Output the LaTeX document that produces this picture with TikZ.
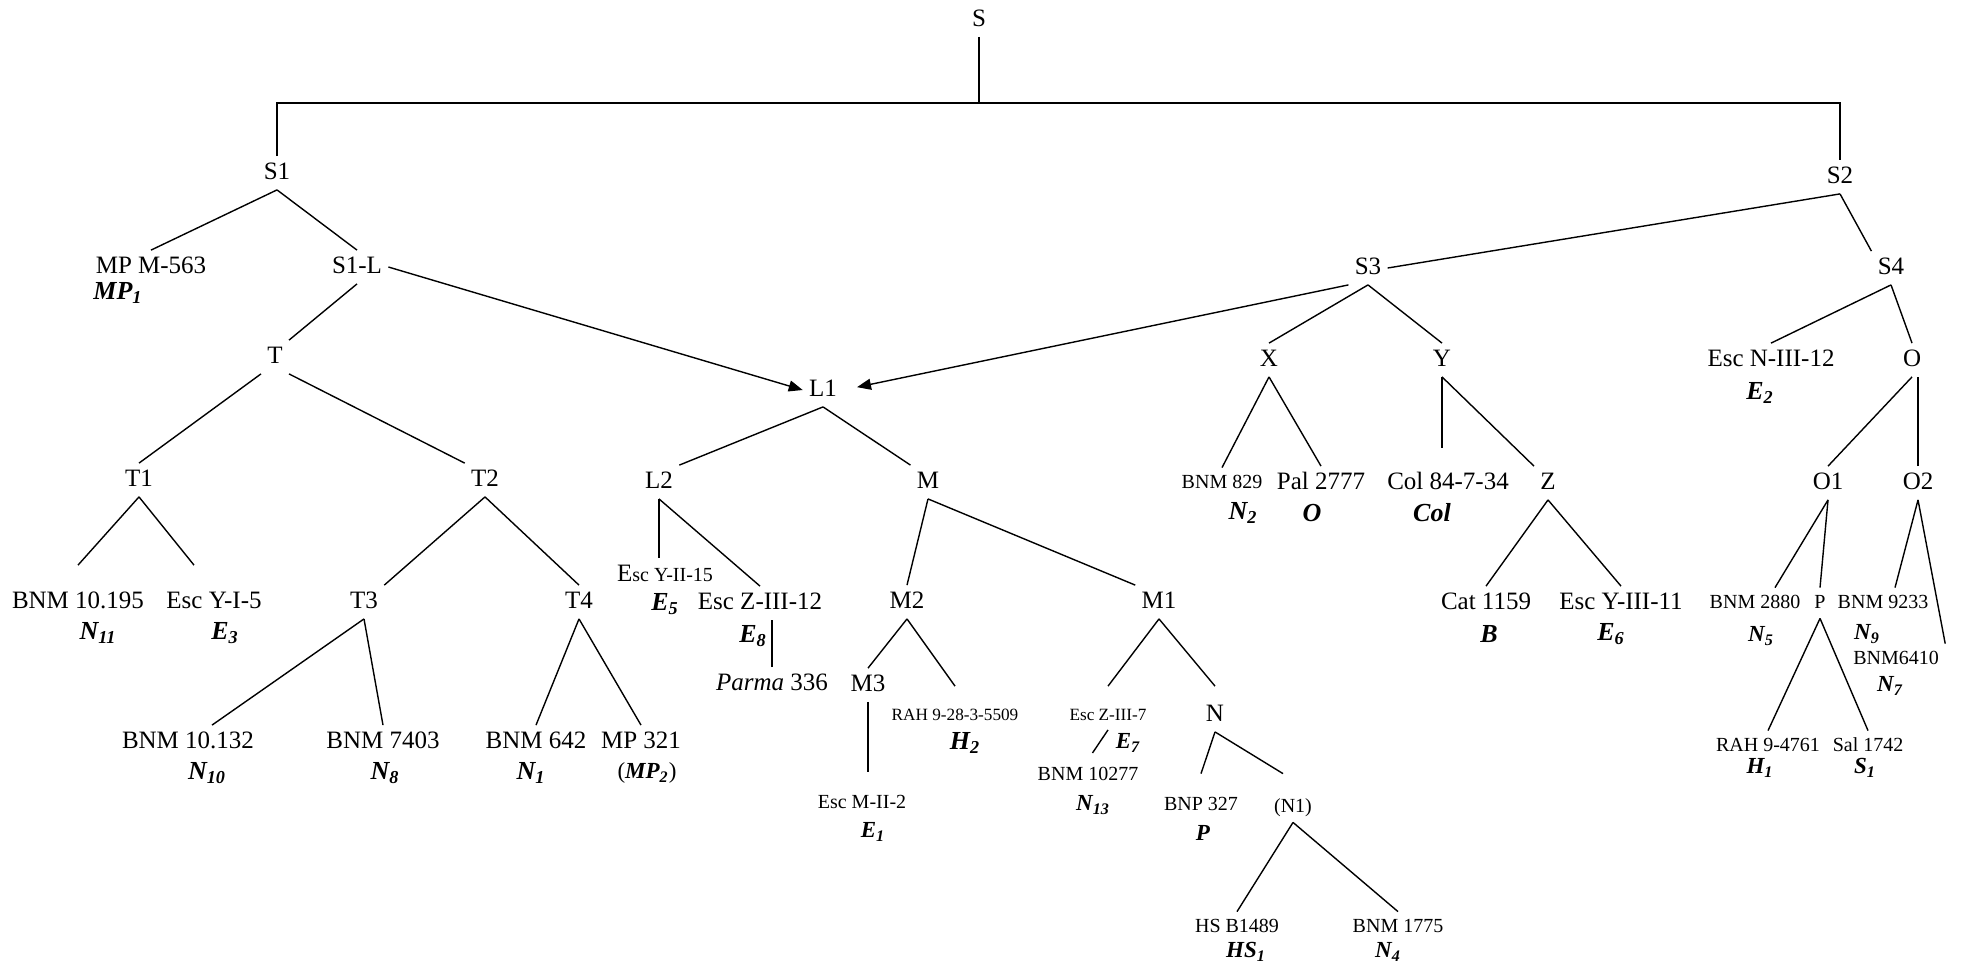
\documentclass[tikz,border=0pt]{standalone}
\usepackage{fontspec}
\setmainfont{Liberation Serif}
\usetikzlibrary{arrows.meta}
\newcommand{\mainsz}{\fontsize{12.5}{14}\selectfont}
\newcommand{\smsz}{\fontsize{10}{12}\selectfont}
\newcommand{\tinysz}{\fontsize{8.6}{10}\selectfont}
\newcommand{\sigsz}{\fontsize{13}{15}\selectfont}
\newcommand{\sigsmsz}{\fontsize{11.5}{13}\selectfont}

\begin{document}
\begin{tikzpicture}[
    x=0.5pt, y=-0.5pt,
    lab/.style={font=\mainsz, inner sep=3pt, text height=8.5pt, text depth=2pt},
    smalllab/.style={font=\smsz, inner sep=3pt, text height=7pt, text depth=2pt},
    tinylab/.style={font=\tinysz, inner sep=3pt, text height=6pt, text depth=1.5pt},
    sig/.style={font=\sigsz\bfseries\itshape, inner sep=1pt},
    sigsm/.style={font=\sigsmsz\bfseries\itshape, inner sep=1pt},
    conn/.style={line width=0.7pt},
    arrow/.style={-{Triangle[length=7pt,width=5.5pt]}, line width=0.7pt}
]
\useasboundingbox (0,0) rectangle (1962,966);

\node[lab] (S) at (979,20) {S};
\node[lab] (S1) at (277,173) {S1};
\node[lab] (S2) at (1840,177) {S2};
\coordinate (bar) at (979,103);
\node[lab] (mp563) at (151,267) {MP M-563};
\node[sig] (sMP1) at (118,293) {MP\textsubscript{1}};
\node[lab] (S1L) at (357,267) {S1-L};
\node[lab] (S3) at (1368,268) {S3};
\node[lab] (S4) at (1891,268) {S4};

\node[lab] (T) at (275,357) {T};
\node[lab] (L1) at (823,390) {L1};
\node[lab] (X) at (1269,360) {X};
\node[lab] (Y) at (1442,360) {Y};
\node[lab] (escn) at (1771,360) {Esc N-III-12};
\node[sig] (sE2) at (1760,393) {E\textsubscript{2}};
\node[lab] (O) at (1912,360) {O};

\node[lab] (T1) at (139,480) {T1};
\node[lab] (T2) at (485,480) {T2};
\node[lab] (L2) at (659,482) {L2};
\node[lab] (M) at (928,482) {M};
\node[smalllab] (bnm829) at (1222,483) {BNM 829};
\node[sig] (sN2) at (1243,513) {N\textsubscript{2}};
\node[lab] (pal) at (1321,483) {Pal 2777};
\node[sig] (sO) at (1312,513) {O};
\node[lab] (col) at (1448,483) {Col 84-7-34};
\node[sig] (sCol) at (1432,513) {Col};
\node[lab] (Z) at (1548,483) {Z};
\node[lab] (O1) at (1828,483) {O1};
\node[lab] (O2) at (1918,483) {O2};

\node[lab] (bnm10195) at (78,602) {BNM 10.195};
\node[sig] (sN11) at (98,633) {N\textsubscript{11}};
\node[lab] (escyi5) at (214,602) {Esc Y-I-5};
\node[sig] (sE3) at (225,633) {E\textsubscript{3}};
\node[lab] (T3) at (364,602) {T3};
\node[lab] (T4) at (579,602) {T4};
\node[lab] (escyii15) at (665,575) {E{\smsz sc Y-II-15}};
\node[sig] (sE5) at (665,604) {E\textsubscript{5}};
\node[lab] (escz12) at (760,603) {Esc Z-III-12};
\node[sig] (sE8) at (753,636) {E\textsubscript{8}};
\node[lab] (parma) at (772,684) {\textit{Parma} 336};
\node[lab] (M2) at (907,602) {M2};
\node[lab] (M1) at (1159,602) {M1};
\node[lab] (cat) at (1486,603) {Cat 1159};
\node[sig] (sB) at (1489,634) {B};
\node[lab] (escyiii11) at (1621,603) {Esc Y-III-11};
\node[sig] (sE6) at (1611,634) {E\textsubscript{6}};
\node[smalllab] (bnm2880) at (1755,603) {BNM 2880};
\node[sigsm] (sN5) at (1761,636) {N\textsubscript{5}};
\node[smalllab] (P) at (1820,603) {P};
\node[smalllab] (bnm9233) at (1883,603) {BNM 9233};
\node[sigsm] (sN9) at (1867,634) {N\textsubscript{9}};
\node[smalllab] (bnm6410) at (1896,659) {BNM6410};
\node[sigsm] (sN7) at (1890,686) {N\textsubscript{7}};

\node[lab] (M3) at (868,685) {M3};
\node[tinylab] (rah5509) at (955,716) {RAH 9-28-3-5509};
\node[sig] (sH2) at (965,743) {H\textsubscript{2}};
\node[tinylab] (escz7) at (1108,716) {Esc Z-III-7};
\node[sigsm] (sE7) at (1128,743) {E\textsubscript{7}};
\node[lab] (N) at (1215,715) {N};
\node[lab] (bnm10132) at (188,742) {BNM 10.132};
\node[sig] (sN10) at (207,773) {N\textsubscript{10}};
\node[lab] (bnm7403) at (383,742) {BNM 7403};
\node[sig] (sN8) at (385,773) {N\textsubscript{8}};
\node[lab] (bnm642) at (536,742) {BNM 642};
\node[sig] (sN1) at (531,773) {N\textsubscript{1}};
\node[lab] (mp321) at (641,742) {MP 321};
\node[font=\sigsmsz, inner sep=1pt] (sMP2) at (647,773) {(\textbf{\textit{MP\textsubscript{2}}})};
\node[smalllab] (rah4761) at (1768,746) {RAH 9-4761};
\node[sigsm] (sH1) at (1760,768) {H\textsubscript{1}};
\node[smalllab] (sal) at (1868,746) {Sal 1742};
\node[sigsm] (sS1) at (1865,768) {S\textsubscript{1}};
\node[smalllab] (bnm10277) at (1088,775) {BNM 10277};
\node[sigsm] (sN13) at (1093,805) {N\textsubscript{13}};
\node[smalllab] (escm) at (862,803) {Esc M-II-2};
\node[sigsm] (sE1) at (873,832) {E\textsubscript{1}};
\node[smalllab] (bnp327) at (1201,805) {BNP 327};
\node[sigsm] (sP) at (1203,833) {P};
\node[smalllab] (N1) at (1293,807) {(N1)};
\node[smalllab] (hs) at (1237,927) {HS B1489};
\node[sigsm] (sHS1) at (1246,952) {HS\textsubscript{1}};
\node[smalllab] (bnm1775) at (1398,927) {BNM 1775};
\node[sigsm] (sN4) at (1388,952) {N\textsubscript{4}};

\draw[conn] (S) -- (bar);
\draw[conn, line width=0.9pt] (S1.north) |- (bar) -| (S2.north);
\draw[conn] (S1.south) -- (mp563.north);
\draw[conn] (S1.south) -- (S1L.north);
\draw[arrow] (S1L.east) -- (L1.west);
\draw[conn] (S1L.south) -- (T.north east);
\draw[conn] (S2.south) -- (S3.east);
\draw[conn] (S2.south) -- (S4.north west);
\draw[arrow, shorten >=7pt] (S3.south west) -- (L1.east);
\draw[conn] (S3.south) -- (X.north);
\draw[conn] (S3.south) -- (Y.north);
\draw[conn] (S4.south) -- (escn.north);
\draw[conn] (S4.south) -- (O.north);
\draw[conn] (O.south) -- (O1.north);
\draw[conn] (O2.north) -- (O2.north |- O.south);

\draw[conn] (T.south west) -- (T1.north);
\draw[conn] (T.south east) -- (T2.north west);
\draw[conn] (L1.south) -- (L2.north east);
\draw[conn] (L1.south) -- (M.north west);
\draw[conn] (X.south) -- (bnm829.north);
\draw[conn] (X.south) -- (pal.north);
\draw[conn, shorten >=9pt] (Y.south) -- (Y.south |- col.north);
\draw[conn] (Y.south) -- (Z.north west);

\draw[conn] (T1.south) -- ([yshift=10pt]bnm10195.north);
\draw[conn] (T1.south) -- ([xshift=-10pt,yshift=10pt]escyi5.north);
\draw[conn] (T2.south) -- (T3.north east);
\draw[conn] (T2.south) -- (T4.north);
\draw[conn] (L2.south) -- (L2.south |- escyii15.north);
\draw[conn] (L2.south) -- (escz12.north);
\draw[conn] (parma.north) -- (parma.north |- escz12.south);
\draw[conn] (M.south) -- (M2.north);
\draw[conn] (M.south) -- (M1.north west);
\draw[conn] (Z.south) -- (cat.north);
\draw[conn] (Z.south) -- (escyiii11.north);
\draw[conn] (O1.south) -- ([xshift=10pt]bnm2880.north);
\draw[conn] (O1.south) -- (P.north);
\draw[conn] (O2.south) -- ([xshift=6pt]bnm9233.north);
\draw[conn] (O2.south) -- (bnm6410.north east);

\draw[conn] (T3.south) -- ([xshift=12pt]bnm10132.north);
\draw[conn] (T3.south) -- (bnm7403.north);
\draw[conn] (T4.south) -- (bnm642.north);
\draw[conn] (T4.south) -- (mp321.north);
\draw[conn] (M2.south) -- (M3.north);
\draw[conn] (M2.south) -- ([yshift=8pt]rah5509.north);
\draw[conn, shorten >=8pt] (M3.south) -- (M3.south |- escm.north);
\draw[conn] (M1.south) -- ([yshift=8pt]escz7.north);
\draw[conn] (M1.south) -- ([yshift=6pt]N.north);
\draw[conn, shorten >=4pt] (escz7.south) -- (bnm10277.north);
\draw[conn] (N.south) -- ([yshift=8pt]bnp327.north);
\draw[conn] (N.south) -- ([xshift=-5pt,yshift=9pt]N1.north);
\draw[conn] (N1.south) -- (hs.north);
\draw[conn] (N1.south) -- (bnm1775.north);
\draw[conn] (P.south) -- (rah4761.north);
\draw[conn] (P.south) -- (sal.north);

\end{tikzpicture}
\end{document}
